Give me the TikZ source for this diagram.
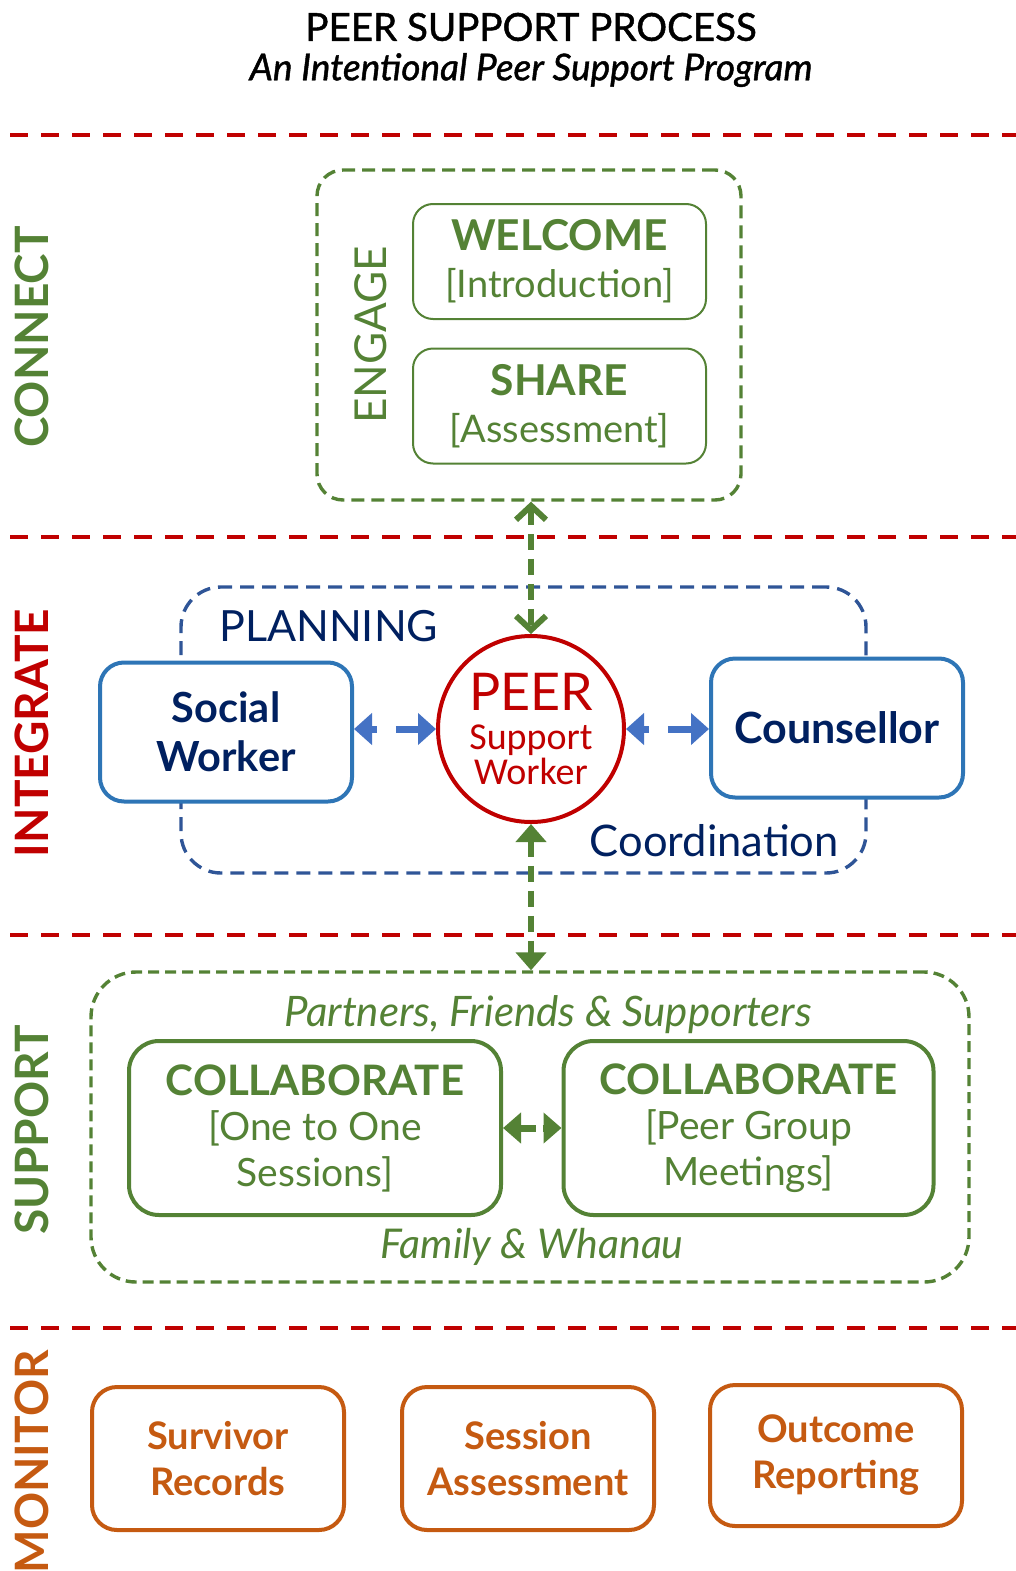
\documentclass[tikz,border=0pt]{standalone}
\usepackage{fontspec}
\setmainfont{Lato}
\newfontfamily\latomed[FakeBold=1.2]{Lato}
\newfontfamily\calib{Carlito}
\usetikzlibrary{arrows.meta}
\definecolor{cgreen}{HTML}{548235}
\definecolor{cred}{HTML}{C00000}
\definecolor{cnavy}{HTML}{002060}
\definecolor{cblue}{HTML}{2E75B6}
\definecolor{cdblue}{HTML}{2F5597}
\definecolor{carrow}{HTML}{4472C4}
\definecolor{corange}{HTML}{C55A11}
\newcommand\fs[2]{\fontsize{#1}{#2}\selectfont}
\begin{document}
\begin{tikzpicture}[x=1pt,y=-1pt,
  sep/.style={draw=cred,line width=4pt,dash pattern=on 18pt off 13pt},
  side/.style={rotate=90,inner sep=0pt,font=\fs{46}{46}\bfseries},
  gbox/.style={draw=cgreen,line width=2pt,rounded corners=20pt,text=cgreen,fill=white,
    minimum width=293pt,minimum height=115pt,inner sep=0pt,align=center,font=\fs{38}{47}},
  pbox/.style={draw=cblue,line width=4pt,rounded corners=24pt,text=cnavy,fill=white,
    minimum width=252pt,minimum height=139pt,inner sep=0pt,align=center,font=\fs{41.5}{49}\bfseries},
  cbox/.style={draw=cgreen,line width=4pt,rounded corners=30pt,text=cgreen,fill=white,
    minimum width=372pt,minimum height=174pt,inner sep=0pt,align=center,font=\fs{39}{45.5}},
  mbox/.style={draw=corange,line width=4pt,rounded corners=25pt,text=corange,fill=white,
    minimum width=252pt,minimum height=141pt,inner sep=0pt,align=center,font=\fs{38}{46}\bfseries},
  grp/.style={line width=3.4pt,rounded corners=#1,inner sep=0pt},
  blarrow/.style={draw=carrow,line width=7pt,{Triangle[length=18pt,width=31pt]}-{Triangle[length=18pt,width=31pt]},
    dash pattern=on 6pt off 19pt on 60pt off 0pt},
]
\useasboundingbox (0,0) rectangle (1016,1571);
% title
\node[inner sep=0pt,font=\latomed\fs{38.5}{40}] (title) at (531,27) {PEER SUPPORT PROCESS};
\node[inner sep=0pt,font=\latomed\itshape\fs{37}{40}] (subtitle) at (531,70) {An Intentional Peer Support Program};
% separators
\draw[sep] (10,135) -- (1016,135);
\draw[sep] (10,537) -- (1016,537);
\draw[sep] (10,935) -- (1016,935);
\draw[sep] (10,1328) -- (1016,1328);
% side labels
\node[side,text=cgreen] (lconnect) at (32,337) {CONNECT};
\node[side,text=cred] (lintegrate) at (32,733) {INTEGRATE};
\node[side,text=cgreen] (lsupport) at (32,1130) {SUPPORT};
\node[side,text=corange,anchor=east] (lmonitor) at (32,1350) {MONITOR};
% CONNECT
\node[grp=26pt,draw=cgreen,dash pattern=on 13pt off 7pt,minimum width=424pt,minimum height=330pt] (engage) at (529,335) {};
\node[rotate=90,inner sep=0pt,text=cgreen,font=\fs{44}{44}] (lengage) at (371,335) {ENGAGE};
\node[gbox] (welcome) at (559.5,261.5) {{\fs{42.5}{47}\bfseries WELCOME}\\{[}Introduction{]}};
\node[gbox] (share) at (559.5,406) {{\fs{42.5}{47}\bfseries SHARE}\\{[}Assessment{]}};
% INTEGRATE
\node[grp=40pt,draw=cdblue,dash pattern=on 14pt off 8pt,minimum width=685pt,minimum height=286pt] (plan) at (523.5,730) {};
\node[anchor=west,inner sep=0pt,text=cnavy,font=\fs{43}{43}] (lplanning) at (219,626) {PLANNING};
\node[anchor=east,inner sep=0pt,text=cnavy,font=\fs{43.5}{44}] (lcoord) at (839,841) {Coordination};
\node[pbox] (sw) at (226,732) {Social\\Worker};
\node[pbox,font=\fs{43}{46}\bfseries] (cou) at (837,728) {Counsellor};
\node[circle,draw=cred,line width=4pt,fill=white,minimum size=186pt,inner sep=0pt,align=center,text=cred,
  font=\calib\fs{38}{35}] (peer) at (531,729)
  {{\normalfont\fs{52}{50}PEER}\\[4pt]Support\\Worker};
\draw[blarrow] (peer.west -| sw.east) -- (peer.west);
\draw[blarrow] (peer.east) -- (peer.east -| cou.west);
\draw[draw=cgreen,line width=6pt,dash pattern=on 16pt off 9pt,
  {Straight Barb[length=14pt,width=30pt]}-{Straight Barb[length=14pt,width=30pt]}]
  (peer.north |- engage.south) -- (peer.north);
% SUPPORT
\node[grp=45pt,draw=cgreen,dash pattern=on 11pt off 6pt,minimum width=878pt,minimum height=310pt] (support) at (530,1127) {};
\draw[draw=cgreen,line width=6pt,dash pattern=on 16pt off 9pt,
  {Triangle[length=18pt,width=30pt]}-{Triangle[length=18pt,width=30pt]}]
  (peer.south) -- (peer.south |- support.north);
\node[inner sep=0pt,text=cgreen,font=\itshape\fs{42}{44}] (lpartners) at (548,1015) {Partners, Friends \& Supporters};
\node[inner sep=0pt,text=cgreen,font=\itshape\fs{41}{44}] (lfamily) at (532,1247) {Family \& Whanau};
\node[cbox] (c1) at (315,1128) {{\fs{42}{45.5}\bfseries COLLABORATE}\\{[}One to One\\Sessions{]}};
\node[cbox,minimum width=370pt] (c2) at (748.5,1128) {{\fs{42}{45.5}\bfseries COLLABORATE}\\{[}Peer Group\\Meetings{]}};
\draw[draw=cgreen,line width=7pt,dash pattern=on 16pt off 7pt on 40pt off 0pt,
  {Triangle[length=18pt,width=30pt]}-{Triangle[length=18pt,width=30pt]}] (c1.east) -- (c2.west);
% MONITOR
\node[mbox,minimum height=143pt] (m1) at (218,1458.5) {Survivor\\Records};
\node[mbox,minimum height=143pt] (m2) at (528,1458.5) {Session\\Assessment};
\node[mbox] (m3) at (836,1455.5) {Outcome\\Reporting};
\end{tikzpicture}
\end{document}
